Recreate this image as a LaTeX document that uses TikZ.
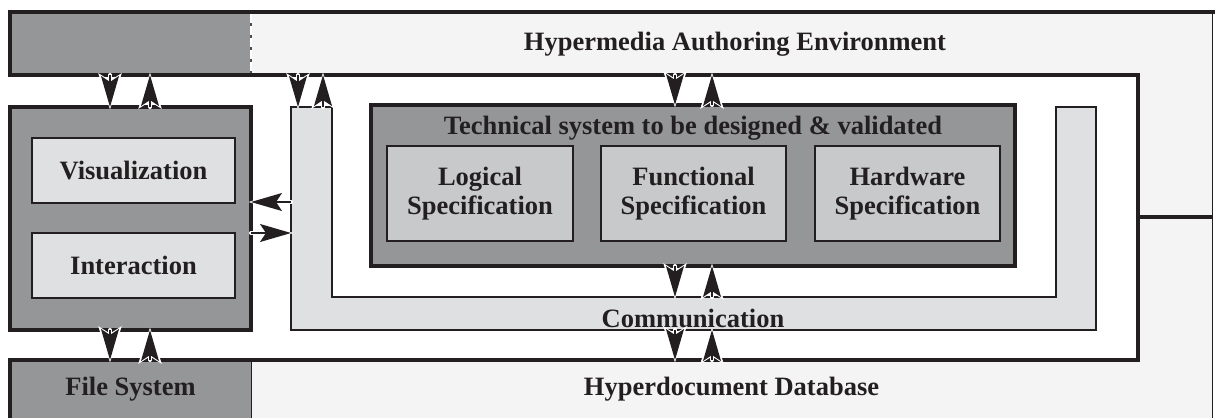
\documentclass[tikz,border=0pt]{standalone}
\usepackage{fontspec}
\setmainfont{Liberation Serif}
\usetikzlibrary{arrows.meta}
\definecolor{ink}{RGB}{35,31,32}
\definecolor{dkgray}{RGB}{149,150,152}
\definecolor{ltgray}{RGB}{223,224,226}
\definecolor{spgray}{RGB}{200,201,203}
\definecolor{bggray}{RGB}{244,244,244}
\newcommand{\lbl}{\bfseries\fontsize{26.5}{28.5}\selectfont}

\begin{document}
\begin{tikzpicture}[x=1pt,y=-1pt,
  blk/.style={outer sep=0pt, inner sep=0pt, anchor=north west, align=center, font=\lbl, text=ink},
  txt/.style={font=\lbl, text=ink, inner sep=0pt, anchor=base},
  halo/.style={draw=white, line width=4pt, line cap=round, shorten >=-2.5pt,
    arrows={-Stealth[length=36pt, width=23pt, inset=7pt]}},
  flow/.style={draw=ink, line width=1.2pt, arrows={-Stealth[length=31pt, width=18pt, inset=6pt]},
    preaction={halo}}]
  \useasboundingbox (0,0) rectangle (1215,418);

  % bands of the environment
  \node[blk, fill=bggray, minimum width=1202, minimum height=63] (env) at (10,12) {};
  \node[blk, fill=dkgray, minimum width=241, minimum height=63] (authtool) at (10,12) {};
  \fill[bggray] (1138,75) rectangle (1212,360);
  \node[blk, fill=bggray, minimum width=961, minimum height=58] (db) at (251,360) {Hyperdocument Database};
  \node[blk, fill=dkgray, minimum width=241, minimum height=58] (fs) at (10,360) {File System};
  \fill[white] (0,75) rectangle (1138,360);
  \draw[ink, line width=4pt] (1215,12) -- (10,12) -- (10,75) -- (1138,75) -- (1138,360) -- (10,360) -- (10,418);
  \draw[ink, line width=4pt] (1138,217) -- (1212,217);
  \draw[ink, line width=0.8pt] (1212,12) -- (1212,418);
  \draw[ink, line width=0.8pt] (251,362) -- (251,418);
  \draw[ink!80, line width=2pt] (251,14) -- (251,73);
  \draw[white, line width=1.4pt, dash pattern=on 9pt off 3pt] (251,14) -- (251,73);
  \node[txt] (hae) at (735,50) {Hypermedia Authoring Environment};

  % communication
  \filldraw[fill=ltgray, draw=ink, line width=1.5pt] (291,107) -- (291,330) -- (1096,330) -- (1096,107)
    -- (1056,107) -- (1056,297) -- (332,297) -- (332,107) -- cycle;
  \node[txt] (commlabel) at (693,327) {Communication};

  % user interface
  \node[blk, fill=dkgray, draw=ink, line width=4pt, minimum width=241, minimum height=223] (ui) at (10,107) {};
  \node[blk, fill=ltgray, draw=ink, line width=1.5pt, minimum width=203, minimum height=65] (vis) at (32,138) {Visualization};
  \node[blk, fill=ltgray, draw=ink, line width=1.5pt, minimum width=203, minimum height=65] (inter) at (32,233) {Interaction};

  % technical system
  \node[blk, fill=dkgray, draw=ink, line width=4pt, minimum width=644, minimum height=161] (tech) at (371,105) {};
  \node[txt] (techtitle) at (693,134) {Technical system to be designed \& validated};
  \node[blk, fill=spgray, draw=ink, line width=1.5pt, minimum width=186, minimum height=95] (logic) at (387,146) {Logical\\Specification};
  \node[blk, fill=spgray, draw=ink, line width=1.5pt, minimum width=185, minimum height=95] (func) at (601,146) {Functional\\Specification};
  \node[blk, fill=spgray, draw=ink, line width=1.5pt, minimum width=185, minimum height=95] (hw) at (815,146) {Hardware\\Specification};

  % arrows
  \coordinate (a1) at (110,0);
  \coordinate (a2) at (150,0);
  \coordinate (b1) at (298,0);
  \coordinate (b2) at (323,0);
  \coordinate (c1) at (675,0);
  \coordinate (c2) at (712,0);
  \coordinate (commtop) at (0,107);
  \coordinate (comminner) at (0,297);
  \coordinate (commouter) at (0,330);
  \coordinate (commleft) at (291,0);
  \coordinate (r1) at (0,202);
  \coordinate (r2) at (0,233);
  \draw[flow] (env.south -| a1) -- (ui.north -| a1);
  \draw[flow] (ui.north -| a2) -- (env.south -| a2);
  \draw[flow] (env.south -| b1) -- (commtop -| b1);
  \draw[flow] (commtop -| b2) -- (env.south -| b2);
  \draw[flow] (env.south -| c1) -- (tech.north -| c1);
  \draw[flow] (tech.north -| c2) -- (env.south -| c2);
  \draw[flow] (tech.south -| c1) -- (comminner -| c1);
  \draw[flow] (comminner -| c2) -- (tech.south -| c2);
  \draw[flow] (commouter -| c1) -- (db.north -| c1);
  \draw[flow] (db.north -| c2) -- (commouter -| c2);
  \draw[flow] (ui.south -| a1) -- (fs.north -| a1);
  \draw[flow] (fs.north -| a2) -- (ui.south -| a2);
  \draw[flow] (commleft |- r1) -- (ui.east |- r1);
  \draw[flow] (ui.east |- r2) -- (commleft |- r2);
\end{tikzpicture}
\end{document}
